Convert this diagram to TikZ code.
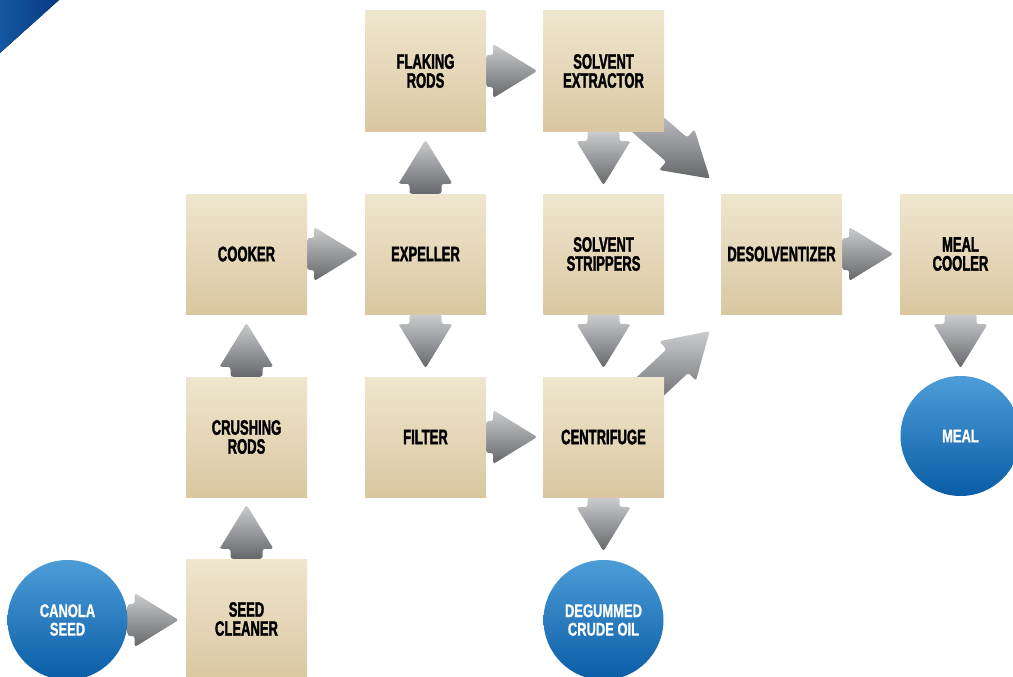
\documentclass[tikz,border=0pt]{standalone}
\usepackage{fontspec}
\newfontfamily\boxfont[FakeStretch=0.62,FakeBold=1.6]{Liberation Sans}
\newfontfamily\circfont[FakeStretch=0.7,FakeBold=0.8]{Liberation Sans}
\usetikzlibrary{calc,backgrounds}
\definecolor{boxtop}{HTML}{EFE6CE}
\definecolor{boxbot}{HTML}{DAC7A2}
\definecolor{arrtop}{HTML}{CBCCCF}
\definecolor{arrbot}{HTML}{66676B}
\definecolor{circtop}{HTML}{4D9DD8}
\definecolor{circbot}{HTML}{0A5DA6}
\definecolor{cornA}{HTML}{1457A3}
\definecolor{cornB}{HTML}{053B82}
\tikzset{
  stepbox/.style={rectangle, minimum width=121pt, minimum height=120pt, inner sep=0pt,
    top color=boxtop, bottom color=boxbot, align=center,
    font=\boxfont\bfseries\fontsize{21}{19}\selectfont, text=black},
  endcirc/.style={circle, minimum size=120pt, inner sep=0pt,
    top color=circtop, bottom color=circbot, align=center,
    font=\circfont\bfseries\fontsize{18.5}{18.5}\selectfont, text=white},
  arrshape/.style={top color=arrtop, bottom color=arrbot, rounded corners=2.5pt},
}
% #1 start, #2 angle (0 right, 90 down), #3 shaft length
\newcommand\blockarr[3]{%
  \shade[arrshape] ($(#1)+(#2+90:16)$) -- ($(#1)+(#2:#3)+(#2+90:16)$)
    -- ($(#1)+(#2:#3)+(#2+90:27)$) -- ($(#1)+(#2:#3+44)$)
    -- ($(#1)+(#2:#3)+(#2-90:27)$) -- ($(#1)+(#2:#3)+(#2-90:16)$)
    -- ($(#1)+(#2-90:16)$) -- cycle;}
\begin{document}
\begin{tikzpicture}[x=1pt,y=-1pt]
\useasboundingbox (0,0) rectangle (1013,677);
\clip (0,0) rectangle (1013,677);
\fill[left color=cornA, right color=cornB] (0,0) -- (59,0) -- (0,53) -- cycle;

\node[stepbox] (flake) at (425.5,71) {FLAKING\\RODS};
\node[stepbox] (extr) at (603.5,71) {SOLVENT\\EXTRACTOR};
\node[stepbox] (cooker) at (246.5,254) {COOKER};
\node[stepbox] (expel) at (425.5,254) {EXPELLER};
\node[stepbox] (strip) at (603.5,254) {SOLVENT\\STRIPPERS};
\node[stepbox] (desolv) at (781.5,254) {DESOLVENTIZER};
\node[stepbox] (mcool) at (960.5,254) {MEAL\\COOLER};
\node[stepbox] (crush) at (246.5,437) {CRUSHING\\RODS};
\node[stepbox] (filter) at (425.5,437) {FILTER};
\node[stepbox] (centr) at (603.5,437) {CENTRIFUGE};
\node[stepbox] (seedcl) at (246.5,619) {SEED\\CLEANER};
\node[endcirc] (canola) at (67.5,620) {CANOLA\\SEED};
\node[endcirc] (oil) at (603.5,620) {DEGUMMED\\CRUDE OIL};
\node[endcirc] (meal) at (960.5,436) {MEAL};

\coordinate (d1) at ($(extr.south east)+(-26,-15)$);
\coordinate (d2) at ($(centr.north east)+(-24,19)$);

\begin{scope}[on background layer]
\blockarr{canola.east}{0}{7}
\blockarr{seedcl.north}{-90}{10}
\blockarr{crush.north}{-90}{10}
\blockarr{cooker.east}{0}{7}
\blockarr{expel.north}{-90}{10}
\blockarr{expel.south}{90}{10}
\blockarr{flake.east}{0}{7}
\blockarr{extr.south}{90}{10}
\blockarr{d1}{41}{51}
\blockarr{filter.east}{0}{7}
\blockarr{strip.south}{90}{10}
\blockarr{centr.south}{90}{10}
\blockarr{d2}{-43}{51}
\blockarr{desolv.east}{0}{7}
\blockarr{mcool.south}{90}{10}
\end{scope}
\end{tikzpicture}
\end{document}
